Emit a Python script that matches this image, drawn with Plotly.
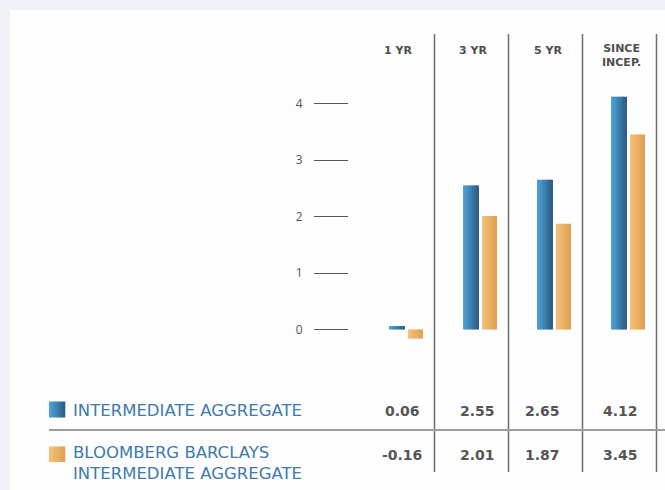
import plotly.graph_objects as go

# ---------------- data ----------------
categories = ["1 YR", "3 YR", "5 YR", "SINCE INCEP."]
header_labels = ["1 YR", "3 YR", "5 YR", "SINCE<br>INCEP."]
series_names = ["INTERMEDIATE AGGREGATE", "BLOOMBERG BARCLAYS<br>INTERMEDIATE AGGREGATE"]
fund_returns = [0.06, 2.55, 2.65, 4.12]
bench_returns = [-0.16, 2.01, 1.87, 3.45]
y_tick_values = [0, 1, 2, 3, 4]

# ---------------- styling / layout helpers ----------------
W, H = 665, 490


def px(x):
    return x / W


def py(y):
    return 1 - y / H


def lerp_color(c1, c2, t):
    a = [int(c1[i:i + 2], 16) for i in (1, 3, 5)]
    b = [int(c2[i:i + 2], 16) for i in (1, 3, 5)]
    return "#%02x%02x%02x" % tuple(round(a[k] + (b[k] - a[k]) * t) for k in range(3))


series_styles = [
    {"left": "#4ba2d8", "right": "#2f5e86", "offset": -0.225, "width": 0.21},
    {"left": "#f6bf78", "right": "#dfa355", "offset": 0.032, "width": 0.195},
]
N_SLICES = 10

fig = go.Figure()
for values, st in zip([fund_returns, bench_returns], series_styles):
    step = st["width"] / N_SLICES
    for k in range(N_SLICES):
        fig.add_trace(go.Bar(
            x=categories, y=values,
            offset=st["offset"] + k * step,
            width=step * 1.08 if k < N_SLICES - 1 else step,
            marker=dict(color=lerp_color(st["left"], st["right"], k / (N_SLICES - 1)),
                        line=dict(width=0)),
            showlegend=False, hoverinfo="skip",
        ))

shapes = []
# white panel
shapes.append(dict(type="rect", xref="paper", yref="paper", x0=px(10), x1=1, y0=0, y1=py(10),
                   fillcolor="#fdfdfd", line=dict(width=0), layer="below"))
# column separators
for xv in [434.5, 508.5, 582.5, 656.5]:
    shapes.append(dict(type="line", xref="paper", yref="paper", x0=px(xv), x1=px(xv),
                       y0=py(34), y1=py(472), line=dict(color="#6e6e6e", width=1.5)))
# row separator
shapes.append(dict(type="line", xref="paper", yref="paper", x0=px(49), x1=1,
                   y0=py(430), y1=py(430), line=dict(color="#9c9c9c", width=2)))
# legend swatches with gradient
for st, (ytop, ybot) in zip(series_styles, [(401.5, 417.5), (446.5, 462)]):
    n = 8
    for k in range(n):
        x0 = 49 + k * 16 / n
        shapes.append(dict(type="rect", xref="paper", yref="paper",
                           x0=px(x0), x1=px(x0 + 16 / n + 0.3), y0=py(ybot), y1=py(ytop),
                           fillcolor=lerp_color(st["left"], st["right"], k / (n - 1)),
                           line=dict(width=0)))

annotations = []
hdr_font = dict(family="DejaVu Sans, sans-serif", size=11, color="#4f4f4f", weight="bold")
header_x = [398, 473, 548, 621]
header_y = [50, 50, 50, 55]
for lab, xv, yv in zip(header_labels, header_x, header_y):
    annotations.append(dict(text=lab, x=px(xv), y=py(yv), xref="paper", yref="paper",
                            showarrow=False, font=hdr_font, xanchor="center", yanchor="middle"))

num_font = dict(family="DejaVu Sans, sans-serif", size=14, color="#555555", weight="bold")
value_x = [402, 477, 542, 620]
for values, yv in zip([fund_returns, bench_returns], [411, 455]):
    for v, xv in zip(values, value_x):
        annotations.append(dict(text=f"{v:.2f}", x=px(xv), y=py(yv), xref="paper", yref="paper",
                                showarrow=False, font=num_font, xanchor="center", yanchor="middle"))

leg_font = dict(family="DejaVu Sans, sans-serif", size=16.5, color="#3f7aae")
leg_y = [410, 462.5]
for name, yv in zip(series_names, leg_y):
    annotations.append(dict(text=name, x=px(70.5), y=py(yv), xref="paper", yref="paper",
                            showarrow=False, font=leg_font, xanchor="left", yanchor="middle",
                            align="left"))

zero_px, unit_px = 329.5, 56.5
top_px, bot_px = 90, 345
fig.update_layout(
    width=W, height=H,
    margin=dict(l=0, r=0, t=0, b=0),
    paper_bgcolor="#eff1f6",
    plot_bgcolor="rgba(0,0,0,0)",
    barmode="overlay",
    showlegend=False,
    shapes=shapes,
    annotations=annotations,
    xaxis=dict(domain=[px(349), 1], range=[-0.77, 3.5], type="category",
               showticklabels=False, showgrid=False, zeroline=False, showline=False, ticks=""),
    yaxis=dict(domain=[py(bot_px), py(top_px)],
               range=[-(bot_px - zero_px) / unit_px, (zero_px - top_px) / unit_px],
               tickvals=y_tick_values, ticktext=[str(v) for v in y_tick_values],
               ticks="outside", ticklen=34, tickwidth=1.3, tickcolor="#555555",
               ticklabelstandoff=9,
               tickfont=dict(family="Open Sans, sans-serif", size=12, color="#555555"),
               showgrid=False, zeroline=False, showline=False),
)

fig.write_html("out.html", config={"displayModeBar": False},
               post_script="document.body.style.margin='0';")
